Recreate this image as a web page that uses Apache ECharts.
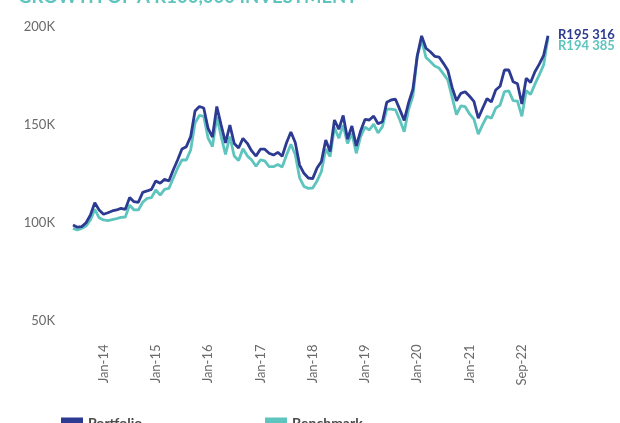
<!DOCTYPE html>
<html>
<head>
<meta charset="utf-8">
<script src="https://cdn.jsdelivr.net/npm/echarts@6/dist/echarts.min.js"></script>
<style>
  html, body { margin: 0; padding: 0; background: #ffffff; }
  #chart { width: 620px; height: 423px; }
</style>
</head>
<body>
<div id="chart"></div>
<script>
// Month-end dates (as shown on the original axis)
const categories = [
  'Jun-13','Jul-13','Aug-13','Sep-13','Oct-13','Nov-13','Dec-13',
  'Jan-14','Feb-14','Mar-14','Apr-14','May-14','Jun-14','Jul-14','Aug-14','Sep-14','Oct-14','Nov-14','Dec-14',
  'Jan-15','Feb-15','Mar-15','Apr-15','May-15','Jun-15','Jul-15','Aug-15','Sep-15','Oct-15','Nov-15','Dec-15',
  'Jan-16','Feb-16','Mar-16','Apr-16','May-16','Jun-16','Jul-16','Aug-16','Sep-16','Oct-16','Nov-16','Dec-16',
  'Jan-17','Feb-17','Mar-17','Apr-17','May-17','Jun-17','Jul-17','Aug-17','Sep-17','Oct-17','Nov-17','Dec-17',
  'Jan-18','Feb-18','Mar-18','Apr-18','May-18','Jun-18','Jul-18','Aug-18','Sep-18','Oct-18','Nov-18','Dec-18',
  'Jan-19','Feb-19','Mar-19','Apr-19','May-19','Jun-19','Jul-19','Aug-19','Sep-19','Oct-19','Nov-19','Dec-19',
  'Jan-20','Feb-20','Mar-20','Apr-20','May-20','Jun-20','Jul-20','Aug-20','Sep-20','Oct-20','Nov-20','Dec-20',
  'Jan-21','Feb-21','Mar-21','Apr-21','May-21','Jun-21','Jul-21','Aug-21','Sep-21','Oct-21','Nov-21','Dec-21',
  'Sep-22','Oct-22','Nov-22','Dec-22','Jan-23','Feb-23','Mar-23'
];

const tickLabels = ['Jan-14','Jan-15','Jan-16','Jan-17','Jan-18','Jan-19','Jan-20','Jan-21','Sep-22'];

// Values in R thousands
const portfolio = [
  98.7, 97.6, 97.9, 99.9, 103.8, 110.1, 106.4, 104.2, 105.0, 105.9,
  106.4, 107.2, 106.7, 112.7, 110.6, 110.3, 115.4, 116.1, 116.9, 121.2,
  120.0, 122.0, 121.2, 126.8, 131.9, 137.5, 138.7, 143.8, 156.9, 159.2,
  158.4, 148.0, 143.6, 159.2, 149.7, 140.6, 149.7, 140.3, 138.0, 142.9,
  140.4, 136.5, 133.9, 137.4, 137.4, 135.3, 134.4, 135.8, 133.8, 140.7,
  146.2, 140.8, 129.3, 125.1, 122.7, 122.4, 127.8, 131.1, 142.1, 136.2,
  152.3, 147.6, 154.6, 142.6, 149.2, 139.0, 146.7, 152.6, 152.3, 154.3,
  150.4, 151.4, 161.3, 162.5, 162.9, 157.6, 152.1, 161.0, 168.0, 185.1,
  195.2, 188.9, 187.1, 184.8, 184.4, 181.2, 177.7, 168.9, 162.1, 165.9,
  166.7, 164.4, 161.8, 153.2, 158.3, 163.2, 161.5, 167.6, 169.5, 177.8,
  177.8, 171.8, 170.8, 160.5, 173.6, 171.4, 176.9, 180.8, 185.3, 195.316
];

const benchmark = [
  97.0, 96.2, 97.0, 98.2, 101.3, 106.7, 102.4, 101.3, 101.0, 101.5,
  102.0, 102.6, 102.8, 108.9, 106.4, 106.4, 110.3, 112.3, 112.7, 116.6,
  114.0, 116.9, 117.4, 122.6, 127.7, 131.9, 131.9, 137.0, 150.8, 154.6,
  154.2, 143.0, 138.7, 154.0, 143.8, 134.8, 143.8, 133.9, 131.6, 137.6,
  134.0, 131.9, 128.7, 131.9, 131.4, 128.5, 128.5, 129.6, 128.3, 134.4,
  139.9, 134.7, 122.8, 118.4, 117.4, 117.6, 121.2, 126.0, 137.5, 133.6,
  148.5, 143.0, 149.7, 140.4, 145.5, 135.3, 143.8, 148.7, 147.2, 150.2,
  145.7, 148.9, 157.8, 157.8, 157.5, 152.3, 146.3, 157.6, 164.5, 184.9,
  193.1, 184.2, 182.1, 179.8, 178.8, 175.8, 172.7, 163.8, 155.0, 159.5,
  159.1, 155.4, 152.7, 145.1, 149.9, 154.2, 153.2, 158.3, 159.9, 166.8,
  167.2, 162.2, 161.9, 154.2, 167.3, 165.3, 170.6, 175.3, 180.4, 194.385
];

const seriesNames = ['Portfolio', 'Benchmark'];
const titleText = 'GROWTH OF A R100,000 INVESTMENT';

const navy = '#2C3A91';
const teal = '#5EC4BE';
const font = 'Lato, "Open Sans", sans-serif';

function randLabel(v) {
  const n = Math.round(v * 1000);
  return 'R' + String(n).replace(/\B(?=(\d{3})+(?!\d))/g, ' ');
}

const chart = echarts.init(document.getElementById('chart'), null, { renderer: 'canvas' });

chart.setOption({
  backgroundColor: '#ffffff',
  animation: false,
  title: {
    text: titleText,
    left: 13,
    top: -17,
    textStyle: { color: teal, fontSize: 18.5, fontWeight: 'bold', fontFamily: font }
  },
  legend: [
    {
      data: [seriesNames[0]],
      left: 56, top: 411,
      icon: 'rect', itemWidth: 22, itemHeight: 11, itemGap: 8,
      textStyle: { color: '#4a4a4a', fontSize: 14, fontWeight: 'bold', fontFamily: font }
    },
    {
      data: [seriesNames[1]],
      left: 260, top: 411,
      icon: 'rect', itemWidth: 22, itemHeight: 11, itemGap: 8,
      textStyle: { color: '#4a4a4a', fontSize: 14, fontWeight: 'bold', fontFamily: font }
    }
  ],
  grid: { left: 73, right: 72, top: 26.5, bottom: 102.5, containLabel: false },
  xAxis: {
    type: 'category',
    data: categories,
    boundaryGap: false,
    axisLine: { show: false },
    axisTick: { show: false },
    splitLine: { show: false },
    axisLabel: {
      rotate: 90,
      margin: 24,
      color: '#6a6a6a',
      fontSize: 13,
      fontFamily: font,
      interval: function (index, value) { return tickLabels.indexOf(value) !== -1; }
    }
  },
  yAxis: {
    type: 'value',
    min: 50, max: 200, interval: 50,
    axisLine: { show: false },
    axisTick: { show: false },
    splitLine: { show: false },
    axisLabel: {
      formatter: '{value}K',
      margin: 18,
      color: '#6a6a6a',
      fontSize: 13,
      fontFamily: font
    }
  },
  series: [
    {
      name: seriesNames[1],
      type: 'line',
      data: benchmark,
      symbol: 'none',
      z: 2,
      lineStyle: { color: teal, width: 2.8 },
      itemStyle: { color: teal },
      endLabel: {
        show: true,
        formatter: p => randLabel(p.value),
        color: teal, fontSize: 13, fontWeight: 'bold', fontFamily: font,
        distance: 10, offset: [0, 8]
      }
    },
    {
      name: seriesNames[0],
      type: 'line',
      data: portfolio,
      symbol: 'none',
      z: 3,
      lineStyle: { color: navy, width: 2.8 },
      itemStyle: { color: navy },
      endLabel: {
        show: true,
        formatter: p => randLabel(p.value),
        color: navy, fontSize: 13, fontWeight: 'bold', fontFamily: font,
        distance: 10, offset: [0, -1]
      }
    }
  ]
});
</script>
</body>
</html>
